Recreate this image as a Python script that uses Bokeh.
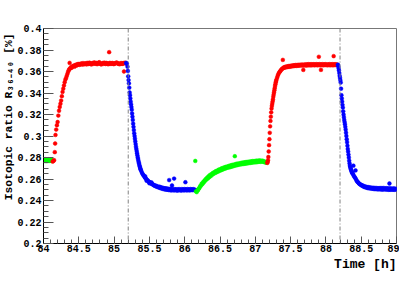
from bokeh.plotting import figure
from bokeh.models import Range1d, Span, Title, SingleIntervalTicker, CustomJSTickFormatter
from bokeh.embed import file_html
from bokeh.resources import INLINE

# ---------------- data (time in h, isotopic ratio R36-40 in %) ----------------
green1_t = [84.000, 84.005, 84.010, 84.015, 84.020, 84.025, 84.030, 84.035, 84.040, 84.045,
            84.050, 84.055, 84.060, 84.065, 84.070, 84.075, 84.080, 84.085, 84.090, 84.095,
            84.100, 84.105, 84.110, 84.115, 84.120]
green1_v = [0.2772, 0.2782, 0.2768, 0.2780, 0.2774, 0.2784, 0.2770, 0.2778, 0.2766, 0.2782,
            0.2772, 0.2780, 0.2768, 0.2784, 0.2774, 0.2778, 0.2768, 0.2782, 0.2770, 0.2780,
            0.2772, 0.2778, 0.2768, 0.2776, 0.2772]

red1_t = [84.13, 84.14, 84.15, 84.16, 84.165, 84.17, 84.18, 84.19, 84.20, 84.21,
          84.22, 84.23, 84.24, 84.25, 84.26, 84.27, 84.28, 84.29, 84.30, 84.31,
          84.32, 84.33, 84.34, 84.35, 84.36, 84.37, 84.37, 84.38, 84.39, 84.40,
          84.41, 84.42, 84.43, 84.44, 84.45, 84.46, 84.47, 84.48, 84.49,
          84.50, 84.51, 84.52, 84.53, 84.54, 84.55, 84.56, 84.57, 84.58, 84.59,
          84.60, 84.61, 84.62, 84.63, 84.64, 84.65, 84.66, 84.67, 84.68, 84.69,
          84.70, 84.71, 84.72, 84.73, 84.74, 84.75, 84.76, 84.77, 84.78, 84.79,
          84.80, 84.81, 84.82, 84.83, 84.84, 84.85, 84.86, 84.87, 84.88, 84.89,
          84.90, 84.91, 84.92, 84.93, 84.93, 84.94, 84.95, 84.96, 84.97, 84.98, 84.99,
          85.00, 85.01, 85.02, 85.03, 85.04, 85.05, 85.06, 85.07, 85.08, 85.09,
          85.10, 85.11, 85.12, 85.13, 85.14, 85.14, 85.15, 85.16, 85.17]
red1_v = [0.2762, 0.2768, 0.2775, 0.2850, 0.2930, 0.3010, 0.3060, 0.3100, 0.3130, 0.3190,
          0.3235, 0.3270, 0.3300, 0.3330, 0.3370, 0.3410, 0.3440, 0.3470, 0.3500, 0.3525,
          0.3540, 0.3560, 0.3580, 0.3600, 0.3615, 0.3625, 0.3680, 0.3630, 0.3640, 0.3635,
          0.3648, 0.3650, 0.3655, 0.3645, 0.3660, 0.3662, 0.3655, 0.3668, 0.3664,
          0.3670, 0.3662, 0.3666, 0.3674, 0.3672, 0.3664, 0.3678, 0.3668, 0.3668, 0.3676,
          0.3674, 0.3666, 0.3680, 0.3672, 0.3670, 0.3682, 0.3676, 0.3670, 0.3666, 0.3678,
          0.3678, 0.3672, 0.3684, 0.3676, 0.3672, 0.3680, 0.3668, 0.3674, 0.3680, 0.3686,
          0.3674, 0.3670, 0.3666, 0.3676, 0.3678, 0.3672, 0.3682, 0.3676, 0.3670, 0.3680,
          0.3676, 0.3670, 0.3668, 0.3780, 0.3676, 0.3680, 0.3672, 0.3672, 0.3678, 0.3678, 0.3670,
          0.3670, 0.3676, 0.3676, 0.3682, 0.3682, 0.3674, 0.3674, 0.3670, 0.3668, 0.3676,
          0.3678, 0.3672, 0.3672, 0.3678, 0.3600, 0.3676, 0.3680, 0.3680, 0.3676]

blue1_t = [85.17, 85.18, 85.19, 85.195, 85.20, 85.205, 85.21, 85.215, 85.22, 85.225,
           85.23, 85.235, 85.24, 85.245, 85.25, 85.255, 85.26, 85.265, 85.27, 85.275,
           85.28, 85.285, 85.29, 85.295, 85.30, 85.305, 85.31, 85.315, 85.32, 85.325,
           85.33, 85.335, 85.34, 85.345, 85.35, 85.355, 85.36, 85.365, 85.37, 85.375,
           85.38, 85.39, 85.40, 85.41, 85.42, 85.43, 85.44, 85.44, 85.45, 85.46, 85.46,
           85.47, 85.48, 85.49, 85.50, 85.50, 85.51, 85.52, 85.53, 85.53, 85.54, 85.55,
           85.56, 85.57, 85.58, 85.59, 85.60, 85.61, 85.62, 85.63, 85.64, 85.65,
           85.66, 85.67, 85.68, 85.69, 85.70, 85.71, 85.72, 85.73, 85.74, 85.75,
           85.76, 85.77, 85.78, 85.78, 85.79, 85.80, 85.81, 85.82, 85.82, 85.83, 85.84,
           85.85, 85.85, 85.86, 85.87, 85.88, 85.89, 85.90, 85.91, 85.92, 85.93, 85.94,
           85.95, 85.96, 85.97, 85.98, 85.99, 86.00, 86.01, 86.01, 86.02, 86.03, 86.04,
           86.05, 86.06, 86.07, 86.08, 86.09, 86.10, 86.11, 86.12, 86.13, 86.14,
           86.15, 86.16]
blue1_v = [0.3680, 0.3672, 0.3645, 0.3605, 0.3555, 0.3520, 0.3490, 0.3450, 0.3405, 0.3380,
           0.3350, 0.3320, 0.3295, 0.3270, 0.3245, 0.3210, 0.3180, 0.3150, 0.3115, 0.3085,
           0.3055, 0.3025, 0.3000, 0.2975, 0.2950, 0.2925, 0.2900, 0.2880, 0.2860, 0.2840,
           0.2820, 0.2800, 0.2785, 0.2768, 0.2752, 0.2740, 0.2724, 0.2712, 0.2702, 0.2690,
           0.2682, 0.2666, 0.2652, 0.2640, 0.2632, 0.2620, 0.2612, 0.2625, 0.2604, 0.2596, 0.2584,
           0.2590, 0.2582, 0.2576, 0.2572, 0.2560, 0.2566, 0.2562, 0.2556, 0.2568, 0.2552, 0.2548,
           0.2545, 0.2538, 0.2540, 0.2532, 0.2536, 0.2526, 0.2530, 0.2522, 0.2528, 0.2516,
           0.2524, 0.2512, 0.2520, 0.2508, 0.2516, 0.2504, 0.2514, 0.2502, 0.2512, 0.2500,
           0.2510, 0.2498, 0.2508, 0.2590, 0.2496, 0.2506, 0.2494, 0.2506, 0.2540, 0.2496, 0.2504,
           0.2494, 0.2604, 0.2506, 0.2496, 0.2504, 0.2492, 0.2504, 0.2494, 0.2506, 0.2496, 0.2502,
           0.2492, 0.2506, 0.2496, 0.2504, 0.2494, 0.2506, 0.2496, 0.2570, 0.2504, 0.2494, 0.2506,
           0.2496, 0.2504, 0.2494, 0.2506, 0.2498, 0.2504, 0.2496, 0.2506, 0.2498, 0.2502,
           0.2496, 0.2494]

green2_t = [86.15, 86.16, 86.17, 86.18, 86.19, 86.20, 86.21, 86.22, 86.23, 86.24, 86.25,
            86.26, 86.27, 86.28, 86.29, 86.30, 86.31, 86.32, 86.33, 86.34, 86.35,
            86.36, 86.37, 86.38, 86.39, 86.40, 86.41, 86.42, 86.43, 86.44, 86.45,
            86.46, 86.47, 86.48, 86.49, 86.50, 86.51, 86.52, 86.53, 86.54, 86.55,
            86.56, 86.57, 86.58, 86.59, 86.60, 86.61, 86.62, 86.63, 86.64, 86.65,
            86.66, 86.67, 86.68, 86.69, 86.70, 86.71, 86.71, 86.72, 86.73, 86.74, 86.75,
            86.76, 86.77, 86.78, 86.79, 86.80, 86.81, 86.82, 86.83, 86.84, 86.85,
            86.86, 86.87, 86.88, 86.89, 86.90, 86.91, 86.92, 86.93, 86.94, 86.95,
            86.96, 86.97, 86.98, 86.99, 87.00, 87.01, 87.02, 87.03, 87.04, 87.05,
            87.06, 87.07, 87.08, 87.09, 87.10, 87.11, 87.12, 87.13, 87.14, 87.15, 87.16]
green2_v = [0.2768, 0.2485, 0.2478, 0.2492, 0.2498, 0.2512, 0.2518, 0.2534, 0.2538, 0.2556, 0.2552,
            0.2570, 0.2568, 0.2586, 0.2584, 0.2600, 0.2596, 0.2614, 0.2606, 0.2626, 0.2618,
            0.2638, 0.2628, 0.2646, 0.2640, 0.2656, 0.2648, 0.2664, 0.2656, 0.2672, 0.2662,
            0.2678, 0.2668, 0.2686, 0.2676, 0.2690, 0.2680, 0.2698, 0.2686, 0.2702, 0.2692,
            0.2708, 0.2696, 0.2712, 0.2702, 0.2716, 0.2706, 0.2720, 0.2708, 0.2724, 0.2712,
            0.2728, 0.2716, 0.2732, 0.2720, 0.2734, 0.2812, 0.2724, 0.2738, 0.2728, 0.2742, 0.2730,
            0.2744, 0.2734, 0.2746, 0.2736, 0.2750, 0.2738, 0.2752, 0.2740, 0.2754, 0.2742,
            0.2756, 0.2744, 0.2758, 0.2746, 0.2760, 0.2748, 0.2762, 0.2750, 0.2764, 0.2752,
            0.2766, 0.2754, 0.2766, 0.2756, 0.2768, 0.2756, 0.2770, 0.2758, 0.2770, 0.2760,
            0.2772, 0.2760, 0.2770, 0.2762, 0.2770, 0.2760, 0.2766, 0.2756, 0.2760, 0.2752, 0.2754]

red2_t = [87.17, 87.175, 87.18, 87.185, 87.19, 87.195, 87.20, 87.205, 87.21, 87.215,
          87.22, 87.225, 87.23, 87.235, 87.24, 87.245, 87.25, 87.255, 87.26, 87.265,
          87.27, 87.275, 87.28, 87.285, 87.29, 87.295, 87.30, 87.31, 87.32, 87.33,
          87.34, 87.35, 87.36, 87.37, 87.38, 87.39, 87.39,
          87.40, 87.41, 87.42, 87.43, 87.44, 87.45, 87.46, 87.47, 87.48, 87.49,
          87.50, 87.51, 87.52, 87.53, 87.54, 87.55, 87.56, 87.57, 87.58, 87.59,
          87.60, 87.61, 87.62, 87.63, 87.64, 87.65, 87.66, 87.67, 87.68, 87.68, 87.69,
          87.70, 87.71, 87.72, 87.73, 87.74, 87.75, 87.76, 87.77, 87.78, 87.79,
          87.80, 87.81, 87.82, 87.83, 87.84, 87.85, 87.86, 87.87, 87.88, 87.89,
          87.90, 87.90, 87.91, 87.92, 87.93, 87.93, 87.94, 87.95, 87.96, 87.97, 87.98, 87.99,
          88.00, 88.01, 88.02, 88.03, 88.04, 88.05, 88.06, 88.07, 88.08, 88.09,
          88.10, 88.11, 88.11, 88.12, 88.13, 88.14, 88.15, 88.16]
red2_v = [0.2750, 0.2758, 0.2775, 0.2805, 0.2856, 0.2915, 0.2970, 0.3030, 0.3090, 0.3140,
          0.3180, 0.3220, 0.3255, 0.3280, 0.3300, 0.3320, 0.3340, 0.3365, 0.3385, 0.3405,
          0.3425, 0.3445, 0.3465, 0.3482, 0.3500, 0.3512, 0.3525, 0.3545, 0.3565, 0.3580,
          0.3592, 0.3600, 0.3610, 0.3618, 0.3625, 0.3630, 0.3708,
          0.3634, 0.3640, 0.3636, 0.3644, 0.3640, 0.3648, 0.3642, 0.3650, 0.3644, 0.3652,
          0.3646, 0.3654, 0.3648, 0.3656, 0.3650, 0.3658, 0.3652, 0.3660, 0.3652, 0.3660,
          0.3654, 0.3662, 0.3654, 0.3662, 0.3656, 0.3664, 0.3656, 0.3664, 0.3656, 0.3615, 0.3664,
          0.3658, 0.3666, 0.3656, 0.3666, 0.3658, 0.3668, 0.3658, 0.3666, 0.3658, 0.3668,
          0.3658, 0.3666, 0.3660, 0.3668, 0.3658, 0.3666, 0.3660, 0.3668, 0.3658, 0.3666,
          0.3660, 0.3737, 0.3668, 0.3658, 0.3666, 0.3615, 0.3660, 0.3668, 0.3658, 0.3666, 0.3660, 0.3668,
          0.3660, 0.3666, 0.3658, 0.3666, 0.3660, 0.3668, 0.3658, 0.3666, 0.3660, 0.3668,
          0.3658, 0.3666, 0.3743, 0.3660, 0.3668, 0.3660, 0.3666, 0.3662]

blue2_t = [88.17, 88.175, 88.18, 88.185, 88.19, 88.195, 88.20, 88.205, 88.21, 88.215,
           88.22, 88.225, 88.23, 88.235, 88.24, 88.245, 88.25, 88.255, 88.26, 88.265,
           88.27, 88.275, 88.28, 88.285, 88.29, 88.295, 88.30, 88.305, 88.31, 88.315,
           88.32, 88.325, 88.33, 88.335, 88.34, 88.345, 88.35, 88.355, 88.36, 88.365,
           88.37, 88.375, 88.38, 88.39, 88.39, 88.40, 88.41, 88.42, 88.42, 88.43, 88.44,
           88.45, 88.46, 88.47, 88.48, 88.49,
           88.50, 88.51, 88.52, 88.53, 88.54, 88.55, 88.56, 88.57, 88.58, 88.59,
           88.60, 88.61, 88.62, 88.63, 88.64, 88.65, 88.66, 88.67, 88.68, 88.69,
           88.70, 88.71, 88.72, 88.73, 88.74, 88.75, 88.76, 88.77, 88.78, 88.79,
           88.80, 88.81, 88.82, 88.83, 88.84, 88.85, 88.86, 88.87, 88.88, 88.89,
           88.90, 88.90, 88.91, 88.92, 88.93, 88.94, 88.95, 88.96, 88.97, 88.98, 88.99, 89.00]
blue2_v = [0.3664, 0.3650, 0.3630, 0.3610, 0.3585, 0.3560, 0.3540, 0.3518, 0.3497, 0.3440,
           0.3380, 0.3350, 0.3320, 0.3290, 0.3264, 0.3230, 0.3200, 0.3175, 0.3150, 0.3130,
           0.3110, 0.3085, 0.3060, 0.3030, 0.3000, 0.2970, 0.2943, 0.2910, 0.2880, 0.2855,
           0.2827, 0.2800, 0.2770, 0.2745, 0.2724, 0.2712, 0.2700, 0.2690, 0.2680, 0.2670,
           0.2660, 0.2655, 0.2650, 0.2637, 0.2724, 0.2625, 0.2615, 0.2605, 0.2680, 0.2592, 0.2580,
           0.2572, 0.2565, 0.2558, 0.2552, 0.2548,
           0.2545, 0.2538, 0.2540, 0.2530, 0.2534, 0.2524, 0.2530, 0.2520, 0.2526, 0.2516,
           0.2524, 0.2514, 0.2522, 0.2512, 0.2520, 0.2510, 0.2518, 0.2508, 0.2518, 0.2506,
           0.2516, 0.2506, 0.2516, 0.2504, 0.2514, 0.2504, 0.2514, 0.2504, 0.2516, 0.2502,
           0.2514, 0.2502, 0.2516, 0.2504, 0.2512, 0.2502, 0.2514, 0.2502, 0.2512, 0.2500,
           0.2512, 0.2558, 0.2500, 0.2512, 0.2502, 0.2510, 0.2500, 0.2512, 0.2500, 0.2510, 0.2502, 0.2508]

spill_times = [85.20, 88.20]

x_ticks_interval = 0.5
y_ticks_interval = 0.02
x_title = "Time [h]"
y_title = "Isotopic ratio R\u2083\u2086\u208b\u2084\u2080 [%]"

# ---------------- figure ----------------
FONT = "Liberation Mono"

p = figure(width=399, height=271, x_range=Range1d(84, 89), y_range=Range1d(0.2, 0.4),
           output_backend="svg", toolbar_location=None,
           min_border_left=30, min_border_right=3, min_border_top=28, min_border_bottom=18)
p.xgrid.visible = False
p.ygrid.visible = False
p.background_fill_color = "white"
p.border_fill_color = "white"
p.outline_line_color = "#777777"
p.outline_line_width = 1

series = [(green1_t, green1_v, "#00ff00"), (red1_t, red1_v, "#ff0000"),
          (blue1_t, blue1_v, "#0000ff"), (green2_t, green2_v, "#00ff00"),
          (red2_t, red2_v, "#ff0000"), (blue2_t, blue2_v, "#0000ff")]
for t, v, c in series:
    p.scatter(t, v, size=3.8, marker="circle", fill_color=c, line_color=c, line_width=0.5)

for loc in spill_times:
    p.add_layout(Span(location=loc, dimension="height", line_color="#808080",
                      line_width=1, line_dash="4 2 1 2"))

fmt = CustomJSTickFormatter(code="return String(Number(tick.toFixed(3)));")

xa = p.xaxis[0]
xa.ticker = SingleIntervalTicker(interval=x_ticks_interval, num_minor_ticks=5)
xa.formatter = fmt
xa.major_tick_in = 7
xa.major_tick_out = 0
xa.minor_tick_in = 4
xa.minor_tick_out = 0
xa.major_label_standoff = 1

ya = p.yaxis[0]
ya.ticker = SingleIntervalTicker(interval=y_ticks_interval, num_minor_ticks=4)
ya.formatter = fmt
ya.major_tick_in = 10
ya.major_tick_out = 0
ya.minor_tick_in = 5
ya.minor_tick_out = 0
ya.major_label_standoff = 2

for ax in (xa, ya):
    ax.axis_line_color = "black"
    ax.major_tick_line_color = "#555555"
    ax.minor_tick_line_color = "#555555"
    ax.major_label_text_font = FONT
    ax.major_label_text_font_style = "bold"
    ax.major_label_text_font_size = "10px"
    ax.major_label_text_color = "black"

p.add_layout(Title(text=x_title, align="right", standoff=0, offset=0,
                   text_font=FONT, text_font_style="bold", text_font_size="13px",
                   text_color="black"), "below")
p.add_layout(Title(text=y_title, align="right", standoff=0, offset=5,
                   text_font=FONT, text_font_style="bold", text_font_size="11.3px",
                   text_color="black"), "left")

open("out.html", "w").write(file_html(p, INLINE))
